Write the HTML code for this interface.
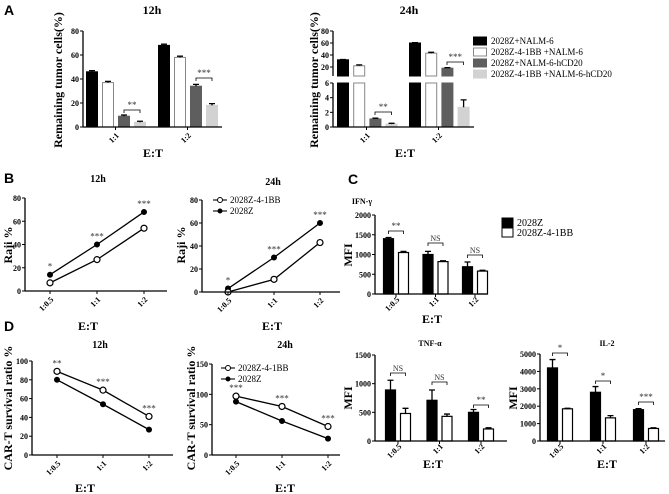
<!DOCTYPE html>
<html><head><meta charset="utf-8"><style>
html,body{margin:0;padding:0;background:#fff;}
svg{display:block;font-family:"Liberation Serif",serif;}
.pl{font-family:"Liberation Sans",sans-serif;font-weight:bold;font-size:14px;}
.tk{font-size:8px;font-weight:bold;}
.ax{font-size:12px;font-weight:bold;}
.tt{font-size:10px;font-weight:bold;}
.lg{font-size:9px;}
</style></head><body>
<svg id="fig" width="669" height="494" viewBox="0 0 669 494" xmlns="http://www.w3.org/2000/svg">
<text class="pl" x="4" y="15">A</text>
<text class="pl" x="4" y="183">B</text>
<text class="pl" x="348" y="184">C</text>
<text class="pl" x="4" y="331">D</text>
</svg>
<script>
// ---------- data ----------
const aCats = ['1:1','1:2'];
const a12S1 = [46,68], a12S2 = [37,58], a12S3 = [9,34], a12S4 = [4,18];
const a12Err = [[1,1],[1,1],[1,1.5],[0.8,1.5]];
const a24S1 = [32,60], a24S2 = [22,43], a24S3 = [1.1,18], a24S4 = [0.4,2.7];
const a24Err = [[0.5,0.5],[1.5,1.5],[0.1,1],[0.1,1]];
const aTicks12 = [0,20,40,60,80];
const aTicks24Low = [0,2,4,6], aTicks24Up = [20,40,60,80];
const aLegend = ['2028Z+NALM-6','2028Z-4-1BB +NALM-6','2028Z+NALM-6-hCD20','2028Z-4-1BB +NALM-6-hCD20'];
const lineCats = ['1:0.5','1:1','1:2'];
const b12Z = [14,40,68], b12BB = [7,27,54], b12Stars = ['*','***','***'];
const b24Z = [3,30,60], b24BB = [0,11,43], b24Stars = ['*','***','***'];
const bTicks = [0,20,40,60,80];
const d12Z = [80,54,27], d12BB = [89,69,41], d12Stars = ['**','***','***'];
const d24Z = [88,56,27], d24BB = [97,80,47], d24Stars = ['***','***','***'];
const d12Ticks = [0,20,40,60,80,100], d24Ticks = [0,50,100,150];
const ifnZ = [1400,1000,690], ifnBB = [1050,820,580], ifnZe = [30,80,120], ifnBBe = [30,20,20], ifnSig = ['**','NS','NS'];
const tnfZ = [890,710,500], tnfBB = [480,430,210], tnfZe = [170,180,50], tnfBBe = [90,40,20], tnfSig = ['NS','NS','**'];
const il2Z = [4200,2800,1800], il2BB = [1850,1330,720], il2Ze = [480,330,60], il2BBe = [30,130,40], il2Sig = ['*','*','***'];
const ifnTicks = [0,500,1000,1500,2000], tnfTicks = [0,500,1000,1500], il2Ticks = [0,1000,2000,3000,4000,5000];

const NS='http://www.w3.org/2000/svg', svg=document.getElementById('fig');
function mk(tag, at, txt){const e=document.createElementNS(NS,tag);for(const k in at)e.setAttribute(k,at[k]);if(txt!==undefined)e.textContent=txt;svg.appendChild(e);return e;}
function lin(v0,p0,v1,p1){return v=>p0+(v-v0)*(p1-p0)/(v1-v0);}
function yAxis(x,yTop,yBot,ticks,y,name){
  let e=mk('line',{x1:x,y1:yTop,x2:x,y2:yBot,stroke:'#000','stroke-width':1.3});
  
  
  ticks.forEach(t=>{
    let l=mk('line',{x1:x-3,y1:y(t),x2:x,y2:y(t),stroke:'#000','stroke-width':1});
    
    
    let tx=mk('text',{x:x-4,y:y(t)+3,'text-anchor':'end',class:'tk'},t);
    
    
  });
}
function xAxis(x0,x1,y0,ticksX,labels,name,fs,off){
  let e=mk('line',{x1:x0,y1:y0,x2:x1,y2:y0,stroke:'#000','stroke-width':1.3});
  
  
  const d=off||9;
  ticksX.forEach((tx,i)=>{
    let l=mk('line',{x1:tx,y1:y0,x2:tx,y2:y0+3,stroke:'#000'});
    
    
    let t=mk('text',{x:tx+4,y:y0+d,'text-anchor':'end',class:'tk','font-size':fs||8,transform:`rotate(-45 ${tx+4} ${y0+d})`},labels[i]);
    
    
  });
}
function txt(x,y,s,cls,name,rot){
  const at={x:x,y:y,'text-anchor':'middle',class:cls};
  if(rot)at.transform=`rotate(-90 ${x} ${y})`;
  let t=mk('text',at,s);
  
  
  return t;
}
function bracket(xa,xb,y,s,name){
  let p=mk('path',{d:`M${xa} ${y+3}V${y}H${xb}V${y+3}`,fill:'none',stroke:'#000','stroke-width':0.8});
  
  
  let t=mk('text',{x:(xa+xb)/2,y:y-2,'text-anchor':'middle','font-size':s==='NS'?8:9,fill:'#333'},s);
  
  
}
const fills=['#000','#fff','#5e5e5e','#d2d2d2'], strokes=['#000','#888','#5e5e5e','#d2d2d2'];
function errBar(cx,yv,ye){
  let l=mk('path',{d:`M${cx} ${yv}V${ye}M${cx-3} ${ye}H${cx+3}`,stroke:'#000','stroke-width':1.3,fill:'none'});
  
  
}

// ---------- Panel A 12h ----------
(function(){
  const y=lin(0,127,80,31), series=[a12S1,a12S2,a12S3,a12S4];
  const gx=i=>86+i*72;
  series.forEach((s,k)=>s.forEach((v,i)=>{
    const x=gx(i)+k*16;
    let r=mk('rect',{x:x+0.5,y:y(v),width:11,height:127-y(v),fill:fills[k],stroke:strokes[k],'stroke-width':1});
    
    
    errBar(x+6,y(v),y(v+a12Err[k][i]));
  }));
  yAxis(83,31,127,aTicks12,y,'a12');
  xAxis(83,222,127,aCats.map((c,i)=>gx(i)+29.5),aCats,'a12');
  bracket(gx(0)+38,gx(0)+54,110,'**','a12-1-1');
  bracket(gx(1)+38,gx(1)+54,78,'***','a12-1-2');
  txt(152,14,'12h','ax','a12-title');
  txt(153,157,'E:T','ax','a12-x-title');
  txt(62,80,'Remaining tumor cells(%)','ax','a12-y-title',true);
})();

// ---------- Panel A 24h (broken axis) ----------
(function(){
  const yl=lin(0,127,6,83), yu=lin(20,67,80,31);
  const series=[a24S1,a24S2,a24S3,a24S4];
  const gx=i=>337+i*72;
  const yv=v=>v<=6?yl(v):yu(v);
  series.forEach((s,k)=>s.forEach((v,i)=>{
    const x=gx(i)+k*16.2;
    if(v<=6){
      let r=mk('rect',{x:x+0.5,y:yl(v),width:11,height:127-yl(v),fill:fills[k],stroke:strokes[k]});
      
      
    } else {
      let r=mk('rect',{x:x+0.5,y:83,width:11,height:44,fill:fills[k],stroke:strokes[k]});
      
      
      let r2=mk('rect',{x:x+0.5,y:yu(v),width:11,height:76-yu(v),fill:fills[k],stroke:strokes[k]});
      
      
    }
    errBar(x+6,yv(v),yv(v+a24Err[k][i]));
  }));
  yAxis(333,83,127,aTicks24Low,yl,'a24-low');
  yAxis(333,31,76,aTicks24Up,yu,'a24-up');
  xAxis(333,474,127,aCats.map((c,i)=>gx(i)+29.5),aCats,'a24');
  bracket(gx(0)+38,gx(0)+54.5,112,'**','a24-1-1');
  bracket(gx(1)+38,gx(1)+54.5,62,'***','a24-1-2');
  txt(409,14,'24h','ax','a24-title');
  txt(405,157,'E:T','ax','a24-x-title');
  txt(318,80,'Remaining tumor cells(%)','ax','a24-y-title',true);
  aLegend.forEach((s,k)=>{
    let r=mk('rect',{x:473.5,y:37+k*11,width:13,height:8,fill:fills[k],stroke:strokes[k]});
    
    
    let t=mk('text',{x:491,y:44+k*11,class:'lg','font-size':8},s);
    
    
  });
})();

// ---------- Line charts ----------
function lineChart(o){
  const y=lin(o.v0,o.y0,o.v1,o.y1);
  const xs=lineCats.map((c,i)=>o.xp[0]+i*(o.xp[1]-o.xp[0]));
  [[o.a,false],[o.b,true]].forEach(([s,open],k)=>{
    let p=mk('polyline',{points:s.map((v,i)=>xs[i]+','+y(v)).join(' '),fill:'none',stroke:'#000','stroke-width':1.3});
    
    
    s.forEach((v,i)=>{
      let c=mk('circle',{cx:xs[i],cy:y(v),r:open?3:2.4,fill:open?'#fff':'#000',stroke:'#000','stroke-width':1.2});
      
      
    });
  });
  const top=o.starOn==='a'?o.a:o.b;
  o.stars.forEach((s,i)=>{
    let t=mk('text',{x:xs[i],y:y(top[i])-5,'text-anchor':'middle','font-size':9,fill:'#333'},s);
    
    
  });
  yAxis(o.ax,o.y1,o.y0,o.ticks,y,o.name);
  xAxis(o.ax,o.axEnd,o.y0,xs,lineCats,o.name);
  txt(o.tx,o.ty,o.title,'tt',o.name+'-title');
  txt(o.ex,o.ey,'E:T','ax',o.name+'-x-title');
  txt(o.yx,o.yy,o.ytitle,'ax',o.name+'-y-title',true);
  if(o.leg){
    [['2028Z-4-1BB',true],['2028Z',false]].forEach(([s,open],k)=>{
      const ly=o.leg[1]+k*11;
      let l=mk('line',{x1:o.leg[0]-7,y1:ly,x2:o.leg[0]+7,y2:ly,stroke:'#000','stroke-width':1.1});
      
      
      let c=mk('circle',{cx:o.leg[0],cy:ly,r:open?2.5:2,fill:open?'#fff':'#000',stroke:'#000'});
      
      
      let t=mk('text',{x:o.leg[0]+10,y:ly+3,class:'lg'},s);
      
      
    });
  }
}
lineChart({name:'b12',a:b12Z,b:b12BB,stars:b12Stars,starOn:'a',v0:0,y0:291,v1:80,y1:198,xp:[50,97],ax:25,axEnd:167,ticks:bTicks,title:'12h',tx:98,ty:182,ex:88,ey:330,ytitle:'Raji %',yx:12,yy:245});
lineChart({name:'b24',a:b24Z,b:b24BB,stars:b24Stars,starOn:'a',v0:0,y0:292,v1:80,y1:200,xp:[228,274],ax:202,axEnd:340,ticks:bTicks,title:'24h',tx:273,ty:185,ex:272,ey:330,ytitle:'Raji %',yx:185,yy:245,leg:[220,200]});
lineChart({name:'d12',a:d12Z,b:d12BB,stars:d12Stars,starOn:'b',v0:0,y0:455,v1:100,y1:361,xp:[57,103],ax:32,axEnd:173,ticks:d12Ticks,title:'12h',tx:100,ty:348,ex:85,ey:492,ytitle:'CAR-T survival ratio %',yx:12,yy:408});
lineChart({name:'d24',a:d24Z,b:d24BB,stars:d24Stars,starOn:'b',v0:0,y0:455,v1:150,y1:364,xp:[236,282],ax:212,axEnd:340,ticks:d24Ticks,title:'24h',tx:285,ty:348,ex:285,ey:492,ytitle:'CAR-T survival ratio %',yx:195,yy:408,leg:[228,368]});

// ---------- Cytokine bar charts ----------
function cyto(o){
  const y=lin(0,o.y0,o.vmax,o.ytop);
  const gx=i=>o.g0+i*o.gs;
  [[o.z,o.ze,'#000','2028z'],[o.bb,o.bbe,'#fff','2028z-4-1bb']].forEach(([s,e,f,n],k)=>s.forEach((v,i)=>{
    const x=gx(i)+k*15;
    let r=mk('rect',{x:x+0.5,y:y(v),width:10,height:o.y0-y(v),fill:f,stroke:'#000','stroke-width':1.2});
    
    
    errBar(x+5.5,y(v),y(v+e[i]));
  }));
  yAxis(o.ax,o.ytop,o.y0,o.ticks,y,o.name);
  xAxis(o.ax,o.axEnd,o.y0,lineCats.map((c,i)=>gx(i)+13),lineCats,o.name,7,6);
  o.sig.forEach((s,i)=>bracket(gx(i)+5.5,gx(i)+20.5,o.sy[i],s,o.name+'-'+lineCats[i]));
  txt(o.tx,o.ty,o.title,'tk',o.name+'-title');
  txt(o.ex,o.ey,'E:T','ax',o.name+'-x-title');
  txt(o.mx,o.my,'MFI','ax',o.name+'-y-title',true);
}
cyto({name:'ifn',z:ifnZ,ze:ifnZe,bb:ifnBB,bbe:ifnBBe,sig:ifnSig,sy:[231,243,255],vmax:2000,y0:294,ytop:215,g0:383,gs:39.5,ax:375,axEnd:488,ticks:ifnTicks,title:'IFN-γ',tx:362,ty:204,ex:432,ey:323,mx:352,my:255});
cyto({name:'tnf',z:tnfZ,ze:tnfZe,bb:tnfBB,bbe:tnfBBe,sig:tnfSig,sy:[373,382,405],vmax:1500,y0:441,ytop:355,g0:385,gs:41.5,ax:375,axEnd:507,ticks:tnfTicks,title:'TNF-α',tx:430,ty:346,ex:433,ey:468,mx:352,my:398});
cyto({name:'il2',z:il2Z,ze:il2Ze,bb:il2BB,bbe:il2BBe,sig:il2Sig,sy:[353,381,402],vmax:5000,y0:441,ytop:354,g0:547,gs:43,ax:540,axEnd:665,ticks:il2Ticks,title:'IL-2',tx:607,ty:346,ex:607,ey:468,mx:517,my:398});
// C legend
[['2028Z','#000'],['2028Z-4-1BB','#fff']].forEach(([s,f],k)=>{
  let r=mk('rect',{x:502,y:218+k*10,width:11,height:9,fill:f,stroke:'#000'});
  
  
  let t=mk('text',{x:517,y:226+k*10,'font-size':10},s);
  
  
});
</script>
</body></html>
